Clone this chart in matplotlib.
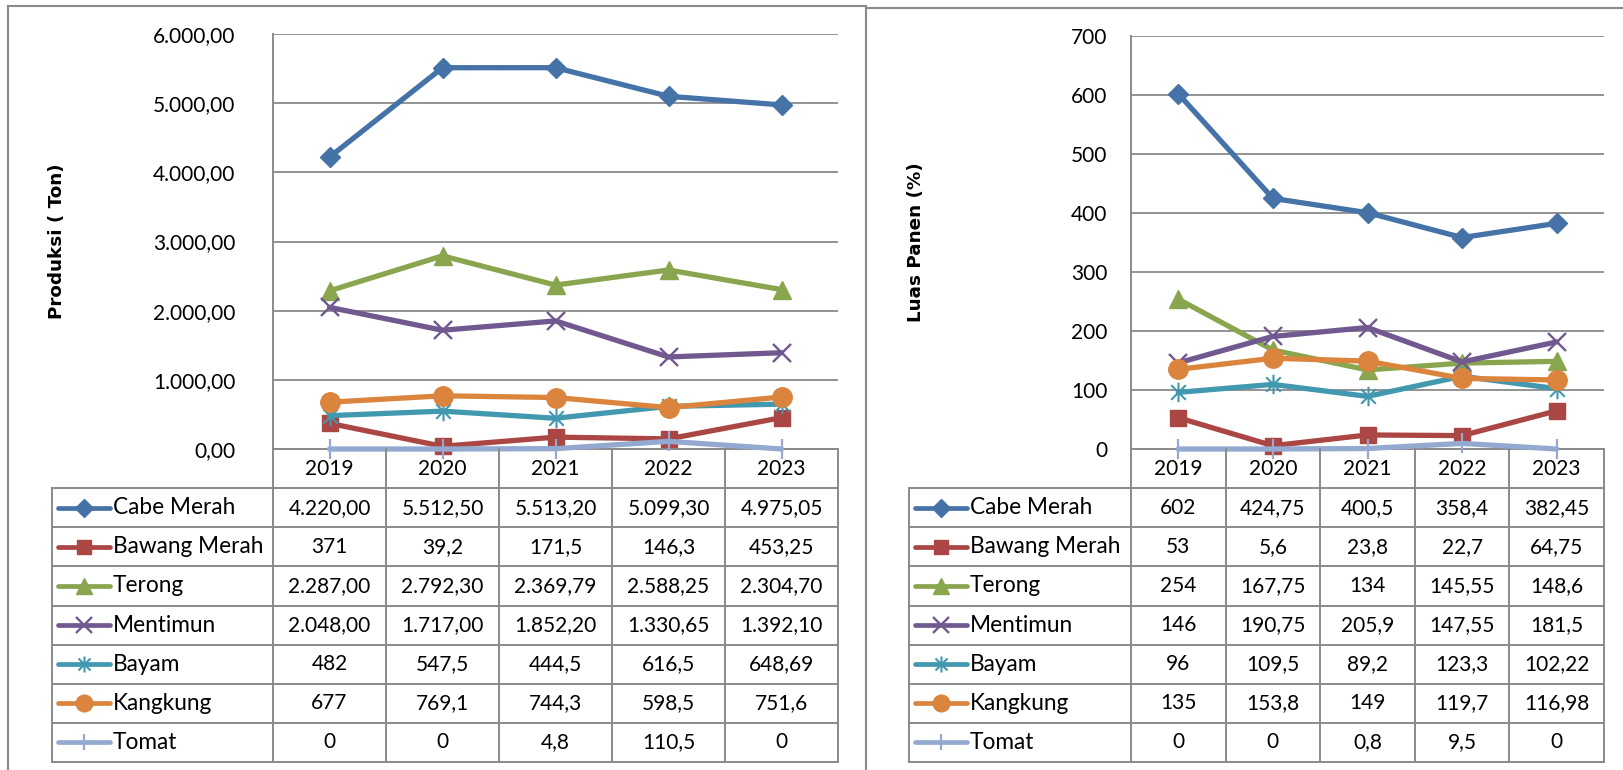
import matplotlib
matplotlib.use("Agg")
import matplotlib.pyplot as plt
from matplotlib.lines import Line2D
from matplotlib.path import Path
import numpy as np

# ---------------- data ----------------
years = ["2019", "2020", "2021", "2022", "2023"]
series_names = ["Cabe Merah", "Bawang Merah", "Terong", "Mentimun", "Bayam", "Kangkung", "Tomat"]

prod_cabe = [4220.00, 5512.50, 5513.20, 5099.30, 4975.05]
prod_bawang = [371, 39.2, 171.5, 146.3, 453.25]
prod_terong = [2287.00, 2792.30, 2369.79, 2588.25, 2304.70]
prod_mentimun = [2048.00, 1717.00, 1852.20, 1330.65, 1392.10]
prod_bayam = [482, 547.5, 444.5, 616.5, 648.69]
prod_kangkung = [677, 769.1, 744.3, 598.5, 751.6]
prod_tomat = [0, 0, 4.8, 110.5, 0]
prod_formats = ["fixed", "general", "fixed", "fixed", "general", "general", "general"]

luas_cabe = [602, 424.75, 400.5, 358.4, 382.45]
luas_bawang = [53, 5.6, 23.8, 22.7, 64.75]
luas_terong = [254, 167.75, 134, 145.55, 148.6]
luas_mentimun = [146, 190.75, 205.9, 147.55, 181.5]
luas_bayam = [96, 109.5, 89.2, 123.3, 102.22]
luas_kangkung = [135, 153.8, 149, 119.7, 116.98]
luas_tomat = [0, 0, 0.8, 9.5, 0]
luas_formats = ["general"] * 7

prod_ticks = [0, 1000, 2000, 3000, 4000, 5000, 6000]
luas_ticks = [0, 100, 200, 300, 400, 500, 600, 700]

# ---------------- styles ----------------
colors = ["#4572A7", "#AA4643", "#89A54E", "#71588F", "#4198AF", "#DB843D", "#93A9CF"]
star = Path([(0, -1), (0, 1), (-0.75, -0.75), (0.75, 0.75), (-0.75, 0.75), (0.75, -0.75)],
            [Path.MOVETO, Path.LINETO, Path.MOVETO, Path.LINETO, Path.MOVETO, Path.LINETO])
markers = ["D", "s", "^", "x", star, "o", "|"]
msizes = [10.5, 12, 13, 13, 14, 14, 14]
mews = [1, 1, 1, 1.7, 1.5, 1, 1.6]
leg_msizes = [9, 10, 11, 11, 11.5, 12, 12]
GRAY = "#8a8a8a"
FONT = "Lato"
FS = 15
FS_LABEL = 16.3
LW = 3.8

W, H = 1623, 770
fig = plt.figure(figsize=(W / 100, H / 100), dpi=100)


def px_rect(x0, y0, x1, y1):
    return [x0 / W, 1 - y1 / H, (x1 - x0) / W, (y1 - y0) / H]


def fmt_general(v):
    return f"{v:g}".replace(".", ",")


def fmt_fixed(v):
    s = f"{v:,.2f}"
    return s.replace(",", "X").replace(".", ",").replace("X", ".")


def draw_panel(values, formats, ticks, tick_fmt, ylabel, plot_box, table_left, label_x, pad):
    x0, y0, x1, y1 = plot_box
    ax = fig.add_axes(px_rect(x0, y0, x1, y1))
    xs = np.arange(len(years))
    for i, vals in enumerate(values):
        ax.plot(xs, vals, color=colors[i], lw=LW, marker=markers[i], ms=msizes[i],
                mec=colors[i], mfc=colors[i], mew=mews[i], clip_on=False, zorder=3 + i,
                solid_capstyle="round", solid_joinstyle="round")
    ax.set_xlim(-0.5, len(years) - 0.5)
    ax.set_ylim(ticks[0], ticks[-1])
    ax.set_yticks(ticks)
    ax.set_yticklabels([tick_fmt(t) for t in ticks], fontfamily=FONT, fontsize=FS)
    ax.tick_params(axis="y", length=0, pad=pad)
    ax.set_xticks([])
    ax.grid(axis="y", color=GRAY, lw=1.3)
    ax.set_axisbelow(True)
    for s in ["top", "right"]:
        ax.spines[s].set_visible(False)
    for s in ["left", "bottom"]:
        ax.spines[s].set_color(GRAY)
        ax.spines[s].set_linewidth(1.4)
    fig.text(label_x / W, 1 - (y0 + y1) / 2 / H, ylabel, rotation=90, ha="center", va="center",
             fontfamily="DejaVu Sans", fontweight="bold", fontsize=13.2)

    # ---- data table ----
    colw = (x1 - x0) / len(years)
    n = len(series_names)
    tb_bottom = 762
    tax = fig.add_axes(px_rect(table_left, y1, x1, tb_bottom))
    xl = -0.5 - (x0 - table_left) / colw
    xr = len(years) - 0.5
    tax.set_xlim(xl, xr)
    tax.set_ylim(0, n + 1)
    tax.axis("off")
    lk = dict(color=GRAY, lw=1.4, clip_on=False, solid_capstyle="projecting")
    for k in range(len(years) + 1):
        tax.plot([k - 0.5, k - 0.5], [0, n + 1], **lk)
    tax.plot([xl, xl], [0, n], **lk)
    for r in range(n + 1):
        tax.plot([xl, xr], [r, r], **lk)
    for j, yr in enumerate(years):
        tax.text(j, n + 0.5, yr, ha="center", va="center", fontfamily=FONT, fontsize=FS)
    px = 1 / colw
    for i, name in enumerate(series_names):
        yc = n - 1 - i + 0.5
        tax.plot([xl + 6 * px, xl + 58 * px], [yc, yc], color=colors[i], lw=3.4,
                 solid_capstyle="round", clip_on=False)
        tax.plot([xl + 32 * px], [yc], marker=markers[i], ms=leg_msizes[i], color=colors[i],
                 mec=colors[i], mew=mews[i], clip_on=False)
        tax.text(xl + 61 * px, yc, name, ha="left", va="center", fontfamily=FONT, fontsize=FS_LABEL)
        f = fmt_fixed if formats[i] == "fixed" else fmt_general
        for j, v in enumerate(values[i]):
            tax.text(j, yc, f(v), ha="center", va="center", fontfamily=FONT, fontsize=FS)
    return ax


prod_values = [prod_cabe, prod_bawang, prod_terong, prod_mentimun, prod_bayam, prod_kangkung, prod_tomat]
luas_values = [luas_cabe, luas_bawang, luas_terong, luas_mentimun, luas_bayam, luas_kangkung, luas_tomat]

draw_panel(prod_values, prod_formats, prod_ticks, fmt_fixed, "Produksi ( Ton)",
           (273, 34, 838, 449), 52, 57, 27)
draw_panel(luas_values, luas_formats, luas_ticks, lambda t: f"{t:g}", "Luas Panen (%)",
           (1131, 36, 1604, 449), 909, 916, 17)


def fig_line(xs, ys):
    fig.add_artist(Line2D([x / W for x in xs], [1 - y / H for y in ys], color=GRAY, lw=1.5,
                          transform=fig.transFigure))


fig_line([8, 866], [6, 6])
fig_line([8, 8], [6, 770])
fig_line([866, 866], [6, 770])
fig_line([866, 1623], [8, 8])

fig.savefig("out.png", dpi=100, facecolor="white")
